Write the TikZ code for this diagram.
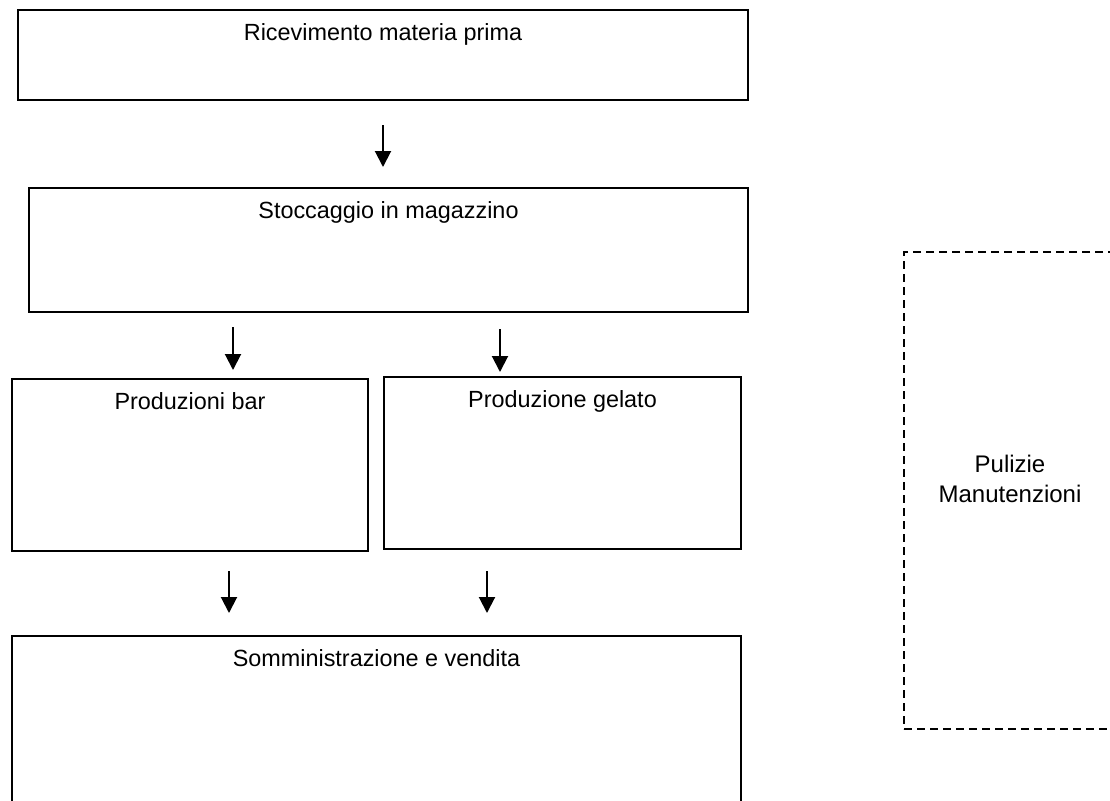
\documentclass[tikz,border=0pt]{standalone}
\usepackage{fontspec}
\setmainfont{Liberation Sans}
\usetikzlibrary{arrows.meta}

\begin{document}
\begin{tikzpicture}[x=0.5pt, y=-0.5pt,
    box/.style 2 args={draw, line width=1pt, anchor=north west, inner ysep=0pt,
      minimum width=#1, text height=15pt, text depth=#2, font=\fontsize{11.7}{14}\selectfont},
    dbox/.style={draw, line width=1pt, dash pattern=on 4pt off 2.5pt},
    arr/.style={-{Triangle[width=8pt,length=8pt]}, line width=1pt}]
  \clip (0,0) rectangle (1110,800);
  \node[box={365pt}{30pt}] (rec) at (17,9) {Ricevimento materia prima};
  \node[box={359.5pt}{47pt}] (stock) at (28,187) {Stoccaggio in magazzino};
  \node[box={178pt}{71pt}] (bar) at (11,378) {Produzioni bar};
  \node[box={178.5pt}{71pt}] (gel) at (383,376) {Produzione gelato};
  \node[box={364.5pt}{85pt}] (sale) at (11,635) {Somministrazione e vendita};
  \node[dbox, minimum width=106pt, minimum height=238.5pt,
    label={[align=center, font=\fontsize{12}{15}\selectfont, yshift=6pt]center:Pulizie\\Manutenzioni}]
    (clean) at (1010,490.5) {};
  \draw[arr, shorten <=12pt, shorten >=10pt] (rec.south) -- (stock.north -| rec.south);
  \draw[arr, shorten <=7pt, shorten >=4pt] (stock.south -| 233,0) -- (bar.north -| 233,0);
  \draw[arr, shorten <=8pt, shorten >=2pt] (stock.south -| 500,0) -- (gel.north -| 500,0);
  \draw[arr, shorten <=9.5pt, shorten >=11pt] (bar.south -| 229,0) -- (sale.north -| 229,0);
  \draw[arr, shorten <=10.5pt, shorten >=11pt] (gel.south -| 487,0) -- (sale.north -| 487,0);
\end{tikzpicture}
\end{document}
